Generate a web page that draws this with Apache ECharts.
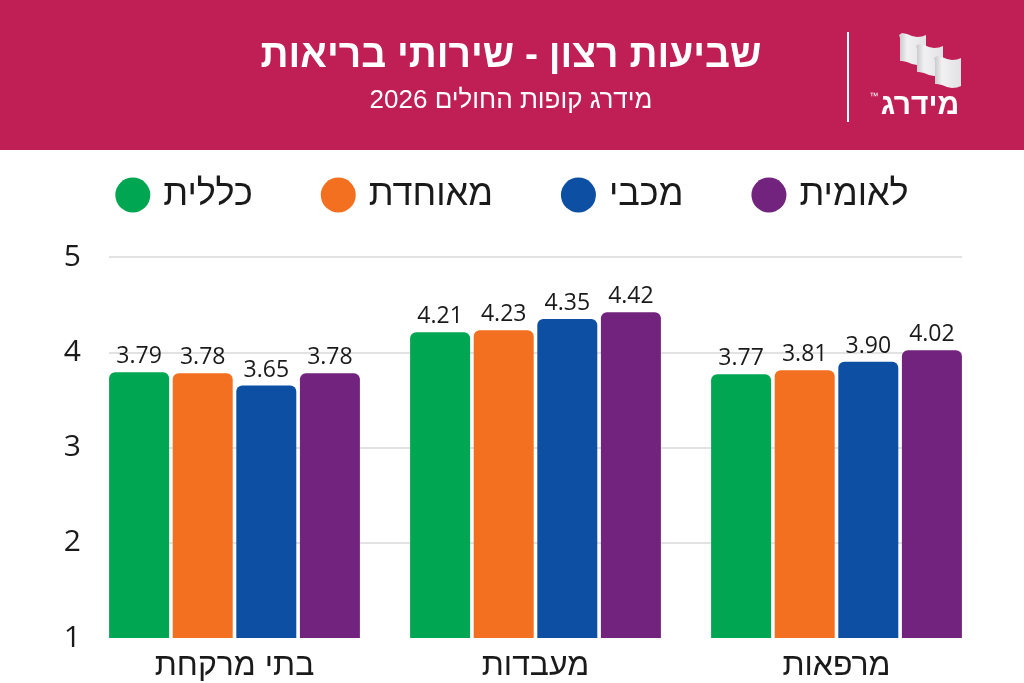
<!DOCTYPE html>
<html>
<head>
<meta charset="utf-8">
<script src="https://cdn.jsdelivr.net/npm/echarts@6/dist/echarts.min.js"></script>
<style>
  html, body { margin: 0; padding: 0; background: #fff; }
  #chart { width: 1024px; height: 683px; }
</style>
</head>
<body>
<div id="chart" dir="rtl"></div>
<script>
// נתונים
const categories = ['בתי מרקחת', 'מעבדות', 'מרפאות'];
const funds = ['כללית', 'מאוחדת', 'מכבי', 'לאומית'];
const clalit = [3.79, 4.21, 3.77];
const meuhedet = [3.78, 4.23, 3.81];
const maccabi = [3.65, 4.35, 3.90];
const leumit = [3.78, 4.42, 4.02];
const yMin = 1;
const yMax = 5;

const fundValues = [clalit, meuhedet, maccabi, leumit];
const fundColors = ['#00A651', '#F37021', '#0D4FA3', '#71237D'];

const HEB = '"Liberation Sans", "DejaVu Sans", sans-serif';
const NUM = '"Open Sans", "Liberation Sans", sans-serif';

const chart = echarts.init(document.getElementById('chart'));

// צורת דגל בלוגו
const flagPoints = [[2, 5], [1, 2], [4, 0], [9, 1], [14, 3], [19, 4], [24, 3.5], [28, 2],
  [28, 30], [24, 31.5], [19, 32], [14, 31], [9, 29], [4, 28], [2, 28]];
const flagFill = {
  type: 'linear', x: 0, y: 0, x2: 1, y2: 0,
  colorStops: [
    { offset: 0, color: '#c6c6ca' },
    { offset: 0.3, color: '#f1f1f2' },
    { offset: 1, color: '#e2e2e5' }
  ]
};
const flags = [[898, 33], [915, 44], [933, 56]].map(p => ({
  type: 'polygon',
  x: p[0], y: p[1],
  shape: { points: flagPoints },
  style: { fill: flagFill },
  z: 3
}));

const series = funds.map((name, i) => ({
  name: name,
  type: 'bar',
  xAxisIndex: 1,
  yAxisIndex: 1,
  data: fundValues[i],
  barWidth: 60,
  barGap: '6%',
  itemStyle: { color: fundColors[i], borderRadius: [6, 6, 0, 0] },
  label: {
    show: true,
    position: 'top',
    distance: 4,
    formatter: p => p.value.toFixed(2),
    fontFamily: NUM,
    fontSize: 23,
    color: '#1a1a1a'
  },
  z: 3
}));

const option = {
  backgroundColor: '#fff',
  animation: false,
  graphic: [
    { type: 'rect', shape: { x: 0, y: 0, width: 1024, height: 150 }, style: { fill: '#C01F56' }, z: 1 },
    {
      type: 'text', x: 511, y: 56, z: 2,
      style: { text: 'שביעות רצון - שירותי בריאות', fill: '#fff', font: 'bold 39px ' + HEB, textAlign: 'center', textVerticalAlign: 'middle' }
    },
    {
      type: 'text', x: 511, y: 101, z: 2,
      style: { text: 'מידרג קופות החולים 2026', fill: '#fff', font: '26px ' + HEB, textAlign: 'center', textVerticalAlign: 'middle' }
    },
    { type: 'rect', shape: { x: 847, y: 32, width: 2, height: 90 }, style: { fill: '#fff' }, z: 2 },
    ...flags,
    {
      type: 'text', x: 920, y: 106, z: 3,
      style: { text: 'מידרג', fill: '#fff', font: 'bold 30px ' + HEB, textAlign: 'center', textVerticalAlign: 'middle' }
    },
    {
      type: 'text', x: 874, y: 97, z: 3,
      style: { text: '™', fill: '#fff', font: '9px ' + HEB, textAlign: 'center', textVerticalAlign: 'middle' }
    }
  ],
  legend: {
    data: funds,
    left: 'center',
    top: 172,
    icon: 'circle',
    itemWidth: 35,
    itemHeight: 35,
    itemGap: 68,
    textStyle: { fontFamily: HEB, fontSize: 36, color: '#1a1a1a', padding: [0, 0, 0, 8] }
  },
  grid: [
    { left: 109, right: 62, top: 257, bottom: 45 },
    { left: 84, right: 37, top: 257, bottom: 45 }
  ],
  xAxis: [
    { type: 'category', gridIndex: 0, data: categories, show: false },
    {
      type: 'category', gridIndex: 1, data: categories,
      axisLine: { show: false },
      axisTick: { show: false },
      axisLabel: { fontFamily: HEB, fontSize: 32, color: '#1a1a1a', margin: 12 }
    }
  ],
  yAxis: [
    {
      type: 'value', gridIndex: 0, min: yMin, max: yMax, interval: 1,
      axisLine: { show: false },
      axisTick: { show: false },
      axisLabel: { fontFamily: NUM, fontSize: 30, color: '#1a1a1a', margin: 28 },
      splitLine: { showMinLine: false, lineStyle: { color: '#d9d9d9', width: 1.5 } }
    },
    {
      type: 'value', gridIndex: 1, min: yMin, max: yMax, interval: 1,
      show: false, splitLine: { show: false }
    }
  ],
  series: series
};

chart.setOption(option);
</script>
</body>
</html>
